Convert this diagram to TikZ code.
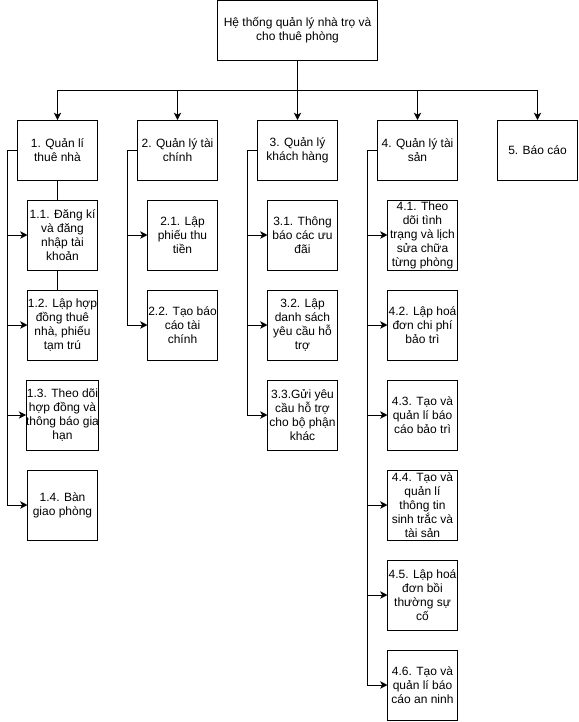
\documentclass[tikz,border=0pt]{standalone}
\usepackage{fontspec}
\setmainfont{Liberation Sans}
\usepackage{tikz}
\usetikzlibrary{arrows.meta,calc,positioning}

\begin{document}
\begin{tikzpicture}[x=0.75pt,y=-0.75pt,line width=0.75pt,
  box/.style={draw,rectangle,inner sep=0pt,outer sep=0pt,align=center,font=\fontsize{9}{10.5}\selectfont},
  top/.style={box,minimum width=120pt,minimum height=45pt},
  main/.style={box,minimum width=60pt,minimum height=45pt},
  sub/.style={box,minimum width=52.5pt,minimum height=52.5pt},
  arr/.style={-{Stealth[length=5.5pt,width=5.5pt,inset=1.5pt]}}]
\useasboundingbox (0,0) rectangle (579,722);
\node[top] (root) at (297.5,30.5) {Hệ thống quản lý nhà trọ và\\cho thuê phòng};
\node[main] (q1) at (57.5,150) {1. Quản lí\\thuê nhà};
\node[main] (q2) at (177.5,150) {2. Quản lý tài\\chính};
\node[main] (q3) at (297.5,150) {3. Quản lý\\khách hàng};
\node[main] (q4) at (417.5,150) {4. Quản lý tài\\sản};
\node[main] (q5) at (537.5,150) {5. Báo cáo};
\node[sub] (t11) at (62.5,235) {1.1. Đăng kí\\và đăng\\nhập tài\\khoản};
\node[sub] (t12) at (62.5,325) {1.2. Lập hợp\\đồng thuê\\nhà, phiếu\\tạm trú};
\node[sub] (t13) at (62.5,415) {1.3. Theo dõi\\hợp đồng và\\thông báo gia\\hạn};
\node[sub] (t14) at (62.5,505) {1.4. Bàn\\giao phòng};
\node[sub] (t21) at (182.5,235) {2.1. Lập\\phiếu thu\\tiền};
\node[sub] (t22) at (182.5,325) {2.2. Tạo báo\\cáo tài\\chính};
\node[sub] (t31) at (302.5,235) {3.1. Thông\\báo các ưu\\đãi};
\node[sub] (t32) at (302.5,325) {3.2. Lập\\danh sách\\yêu cầu hỗ\\trợ};
\node[sub] (t33) at (302.5,415) {3.3.Gửi yêu\\cầu hỗ trợ\\cho bộ phận\\khác};
\node[sub] (t41) at (422.5,235) {4.1. Theo\\dõi tình\\trạng và lịch\\sửa chữa\\từng phòng};
\node[sub] (t42) at (422.5,325) {4.2. Lập hoá\\đơn chi phí\\bảo trì};
\node[sub] (t43) at (422.5,415) {4.3. Tạo và\\quản lí báo\\cáo bảo trì};
\node[sub] (t44) at (422.5,505) {4.4. Tạo và\\quản lí\\thông tin\\sinh trắc và\\tài sản};
\node[sub] (t45) at (422.5,595) {4.5. Lập hoá\\đơn bồi\\thường sự\\cố};
\node[sub] (t46) at (422.5,685) {4.6. Tạo và\\quản lí báo\\cáo an ninh};
\coordinate (hub) at (297.5,90);
\coordinate (s1) at (7.5,150); \coordinate (s2) at (127.5,150);
\coordinate (s3) at (247.5,150); \coordinate (s4) at (367.5,150);
\draw (root) -- (hub);
\foreach \n in {q1,q2,q3,q4,q5} \draw[arr] (hub) -| (\n.north);
\foreach \t in {t11,t12,t13,t14} \draw[arr] (q1.west) -- (s1) |- (\t.west);
\foreach \t in {t21,t22} \draw[arr] (q2.west) -- (s2) |- (\t.west);
\foreach \t in {t31,t32,t33} \draw[arr] (q3.west) -- (s3) |- (\t.west);
\foreach \t in {t41,t42,t43,t44,t45,t46} \draw[arr] (q4.west) -- (s4) |- (\t.west);
\draw (q1.south) -- (q1.south |- t11.north); \draw (t11.south -| q1.south) -- (q1.south |- t12.north);
\end{tikzpicture}
\end{document}
